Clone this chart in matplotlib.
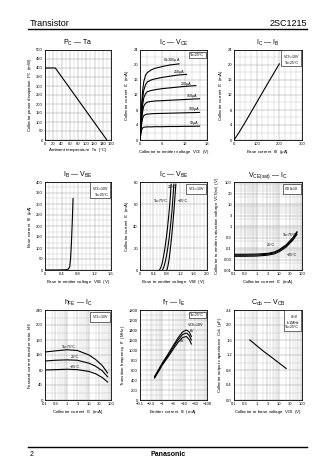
import matplotlib
matplotlib.use('Agg')
import matplotlib.pyplot as plt
from matplotlib.ticker import MultipleLocator, LogLocator, NullFormatter
from matplotlib.lines import Line2D

plt.rcParams['font.family'] = ['Liberation Sans', 'DejaVu Sans']
plt.rcParams['mathtext.fontset'] = 'custom'
plt.rcParams['mathtext.rm'] = 'Liberation Sans'
plt.rcParams['mathtext.it'] = 'Liberation Sans:italic'
plt.rcParams['mathtext.default'] = 'regular'

# ---- data ----
# P_C - Ta
ta = [0, 25, 150]
pc = [400, 400, 0]

# I_C - V_CE (one curve per base current)
ib_labels = ['$I_B$=300μA', '250μA', '200μA', '150μA', '100μA', '50μA']
vce_300 = [0, 0.2, 0.4, 0.7, 1.0, 1.5, 2.0, 3, 4, 6, 8, 10.5]
ic_300 = [0, 4.5, 9, 13, 15.5, 17.3, 18.0, 18.7, 19.1, 19.6, 20.0, 20.3]
vce_250 = [0, 0.2, 0.4, 0.7, 1.0, 1.5, 2.0, 3, 4, 6, 8, 10, 12.5]
ic_250 = [0, 3.8, 7.5, 11, 13.2, 14.8, 15.5, 16.0, 16.3, 16.7, 17.0, 17.3, 17.5]
vce_200 = [0, 0.2, 0.4, 0.7, 1.0, 1.5, 2.0, 3, 4, 6, 8, 10, 12, 15]
ic_200 = [0, 3.2, 6.2, 9.3, 11.2, 12.4, 12.9, 13.2, 13.4, 13.7, 13.9, 14.1, 14.3, 14.5]
vce_150 = [0, 0.2, 0.4, 0.7, 1.0, 1.5, 2.0, 3, 4, 6, 8, 10, 12, 14, 16]
ic_150 = [0, 2.6, 5.0, 7.5, 9.0, 9.8, 10.1, 10.3, 10.4, 10.5, 10.6, 10.7, 10.8, 10.9, 11.0]
vce_100 = [0, 0.2, 0.4, 0.7, 1.0, 1.5, 2.0, 3, 4, 6, 8, 10, 12, 14, 16]
ic_100 = [0, 2.0, 4.0, 5.8, 6.5, 6.8, 6.9, 7.0, 7.05, 7.1, 7.15, 7.2, 7.25, 7.3, 7.35]
vce_50 = [0, 0.2, 0.4, 0.7, 1.0, 1.5, 2.0, 3, 4, 6, 8, 10, 12, 14, 16]
ic_50 = [0, 1.4, 2.6, 3.2, 3.4, 3.45, 3.5, 3.5, 3.55, 3.55, 3.6, 3.6, 3.65, 3.65, 3.7]

# I_C - I_B
ib_lin = [0, 20, 50, 100, 150, 200]
ic_lin = [0, 1.8, 4.8, 10.0, 15.2, 20.3]

# I_B - V_BE
vbe_b = [0, 0.3, 0.5, 0.56, 0.6, 0.62, 0.64, 0.66, 0.68]
ib_b = [0, 0, 1, 3, 15, 50, 120, 215, 325]

# I_C - V_BE at three temperatures
vbe_75 = [0.58, 0.62, 0.66, 0.70, 0.74, 0.78, 0.82, 0.86, 0.90, 0.93]
ic_75 = [0, 2, 6, 12, 19, 28, 38, 50, 64, 78]
vbe_25 = [0.67, 0.71, 0.75, 0.79, 0.83, 0.87, 0.91, 0.95, 0.98, 1.01]
ic_25 = [0, 2.5, 7, 13, 20, 29, 40, 52, 65, 78]
vbe_m25 = [0.80, 0.83, 0.86, 0.89, 0.92, 0.95, 0.98, 1.01, 1.04, 1.07]
ic_m25 = [0, 3, 8, 15, 23, 32, 42, 53, 65, 78]

# V_CE(sat) - I_C
ic_sat = [0.1, 0.3, 1, 3, 6, 10, 20, 40, 60]
vsat_75 = [0.052, 0.052, 0.053, 0.057, 0.066, 0.085, 0.14, 0.30, 0.55]
vsat_25 = [0.047, 0.047, 0.048, 0.052, 0.060, 0.077, 0.125, 0.27, 0.50]
vsat_m25 = [0.042, 0.042, 0.043, 0.047, 0.054, 0.068, 0.11, 0.23, 0.42]

# h_FE - I_C
ic_h = [0.1, 0.3, 1, 3, 10, 20, 40, 70]
hfe_75 = [128, 131, 134, 132, 120, 108, 92, 72]
hfe_25 = [104, 106, 107, 106, 98, 90, 78, 62]
hfe_m25 = [80, 81, 82, 81, 76, 70, 60, 48]

# f_T - I_E (magnitude of I_E)
ie = [0.45, 0.7, 1, 2, 3, 5, 8, 12, 16, 20]
ft_10 = [470, 620, 740, 950, 1080, 1240, 1360, 1400, 1360, 1270]
ft_6 = [455, 600, 720, 920, 1050, 1200, 1310, 1340, 1290, 1200]
ft_3 = [440, 580, 700, 890, 1010, 1150, 1250, 1270, 1210, 1120]

# C_ob - V_CB
vcb = [0.5, 1, 2, 3, 5, 10, 20]
cob = [1.6, 1.45, 1.3, 1.22, 1.12, 0.98, 0.84]

log_ticks = [0.1, 0.3, 1, 3, 10, 30, 100]
log_labels = ['0.1', '0.3', '1', '3', '10', '30', '100']
ie_labels = ['−0.1', '−0.3', '−1', '−3', '−10', '−30', '−100']

W, H = 336, 474
fig = plt.figure(figsize=(W / 100, H / 100), dpi=100)


def make_ax(l, t, r, b):
    return fig.add_axes([l / W, 1 - b / H, (r - l) / W, (b - t) / H])


def style(ax, title, xlabel, ylabel):
    ax.set_title(title, fontsize=5, pad=3.5)
    ax.set_xlabel(xlabel, fontsize=3.2, labelpad=1.5)
    ax.set_ylabel(ylabel, fontsize=3.2, labelpad=1.5)
    ax.tick_params(which='both', labelsize=3, length=0, pad=1.5)
    ax.grid(which='major', color='0.55', lw=0.3)
    ax.grid(which='minor', color='0.72', lw=0.25)
    ax.set_axisbelow(True)
    for s in ax.spines.values():
        s.set_linewidth(0.6)


def box(ax, txt):
    ax.text(0.96, 0.965, txt, transform=ax.transAxes, ha='right', va='top',
            fontsize=2.6, linespacing=1.1,
            bbox=dict(boxstyle='square,pad=0.35', fc='white', ec='black', lw=0.4))


def logx(ax, labels):
    ax.set_xscale('log')
    ax.set_xlim(0.1, 100)
    ax.set_xticks(log_ticks)
    ax.set_xticklabels(labels)
    ax.xaxis.set_minor_locator(LogLocator(subs=range(2, 10)))
    ax.xaxis.set_minor_formatter(NullFormatter())


lw = 0.8
cols = [(45, 111), (140, 207), (234, 302)]
rows = [(50, 140), (182, 270), (310, 400)]

# ---- row 1 ----
ax = make_ax(cols[0][0], rows[0][0], cols[0][1], rows[0][1])
ax.plot(ta, pc, color='black', lw=lw)
ax.set_xlim(0, 160)
ax.set_ylim(0, 500)
ax.xaxis.set_major_locator(MultipleLocator(20))
ax.xaxis.set_minor_locator(MultipleLocator(10))
ax.yaxis.set_major_locator(MultipleLocator(50))
style(ax, '$P_C$ — Ta', 'Ambient temperature  Ta  (°C)',
      'Collector power dissipation  $P_C$  (mW)')

ax = make_ax(cols[1][0], rows[0][0], cols[1][1], rows[0][1])
curves = [(vce_300, ic_300), (vce_250, ic_250), (vce_200, ic_200),
          (vce_150, ic_150), (vce_100, ic_100), (vce_50, ic_50)]
for v, i in curves:
    ax.plot(v, i, color='black', lw=lw)
label_pos = [(8.5, 21.2), (10.5, 18.2), (12.5, 15.0), (14.0, 11.8), (14.5, 8.2), (14.5, 4.6)]
for txt, (x, y) in zip(ib_labels, label_pos):
    ax.text(x, y, txt, fontsize=2.6, ha='center', va='center')
ax.set_xlim(0, 18)
ax.set_ylim(0, 24)
ax.xaxis.set_major_locator(MultipleLocator(6))
ax.xaxis.set_minor_locator(MultipleLocator(2))
ax.yaxis.set_major_locator(MultipleLocator(4))
ax.yaxis.set_minor_locator(MultipleLocator(2))
style(ax, '$I_C$ — $V_{CE}$', 'Collector to emitter voltage  $V_{CE}$  (V)',
      'Collector current  $I_C$  (mA)')
box(ax, 'Ta=25°C')

ax = make_ax(cols[2][0], rows[0][0], cols[2][1], rows[0][1])
ax.plot(ib_lin, ic_lin, color='black', lw=lw)
ax.set_xlim(0, 300)
ax.set_ylim(0, 24)
ax.xaxis.set_major_locator(MultipleLocator(100))
ax.xaxis.set_minor_locator(MultipleLocator(25))
ax.yaxis.set_major_locator(MultipleLocator(4))
ax.yaxis.set_minor_locator(MultipleLocator(2))
style(ax, '$I_C$ — $I_B$', 'Base current  $I_B$  (μA)', 'Collector current  $I_C$  (mA)')
box(ax, '$V_{CE}$=10V\nTa=25°C')

# ---- row 2 ----
ax = make_ax(cols[0][0], rows[1][0], cols[0][1], rows[1][1])
ax.plot(vbe_b, ib_b, color='black', lw=lw)
ax.set_xlim(0, 1.6)
ax.set_ylim(0, 400)
ax.set_xticks([0, 0.4, 0.8, 1.2, 1.6])
ax.set_xticklabels(['0', '0.4', '0.8', '1.2', '1.6'])
ax.xaxis.set_minor_locator(MultipleLocator(0.1))
ax.yaxis.set_major_locator(MultipleLocator(50))
ax.yaxis.set_minor_locator(MultipleLocator(25))
style(ax, '$I_B$ — $V_{BE}$', 'Base to emitter voltage  $V_{BE}$  (V)',
      'Base current  $I_B$  (μA)')
box(ax, '$V_{CE}$=10V\nTa=25°C')

ax = make_ax(cols[1][0], rows[1][0], cols[1][1], rows[1][1])
for v, i in [(vbe_75, ic_75), (vbe_25, ic_25), (vbe_m25, ic_m25)]:
    ax.plot(v, i, color='black', lw=lw)
ax.text(0.42, 63, 'Ta=75°C', fontsize=2.6, ha='left', va='center')
ax.text(0.95, 75, '25°C', fontsize=2.6, ha='center', va='center')
ax.text(1.12, 63, '−25°C', fontsize=2.6, ha='left', va='center')
ax.set_xlim(0, 2.0)
ax.set_ylim(0, 80)
ax.set_xticks([0, 0.4, 0.8, 1.2, 1.6, 2.0])
ax.set_xticklabels(['0', '0.4', '0.8', '1.2', '1.6', '2.0'])
ax.xaxis.set_minor_locator(MultipleLocator(0.1))
ax.yaxis.set_major_locator(MultipleLocator(20))
ax.yaxis.set_minor_locator(MultipleLocator(10))
style(ax, '$I_C$ — $V_{BE}$', 'Base to emitter voltage  $V_{BE}$  (V)',
      'Collector current  $I_C$  (mA)')
box(ax, '$V_{CE}$=10V')

ax = make_ax(cols[2][0], rows[1][0], cols[2][1], rows[1][1])
for v in [vsat_75, vsat_25, vsat_m25]:
    ax.plot(ic_sat, v, color='black', lw=lw)
logx(ax, log_labels)
ax.set_yscale('log')
ax.set_ylim(0.01, 100)
ax.set_yticks([0.01, 0.03, 0.1, 0.3, 1, 3, 10, 30, 100])
ax.set_yticklabels(['0.01', '0.03', '0.1', '0.3', '1', '3', '10', '30', '100'])
ax.yaxis.set_minor_locator(LogLocator(subs=range(2, 10)))
ax.yaxis.set_minor_formatter(NullFormatter())
ax.text(14, 0.4, 'Ta=75°C', fontsize=2.6, ha='left', va='center')
ax.text(4, 0.14, '25°C', fontsize=2.6, ha='center', va='center')
ax.text(22, 0.05, '−25°C', fontsize=2.6, ha='left', va='center')
style(ax, '$V_{CE(sat)}$ — $I_C$', 'Collector current  $I_C$  (mA)',
      'Collector to emitter saturation voltage  $V_{CE(sat)}$  (V)')
box(ax, '$I_C$/$I_B$=10')

# ---- row 3 ----
ax = make_ax(cols[0][0], rows[2][0], cols[0][1], rows[2][1])
for h in [hfe_75, hfe_25, hfe_m25]:
    ax.plot(ic_h, h, color='black', lw=lw)
logx(ax, log_labels)
ax.set_ylim(0, 240)
ax.yaxis.set_major_locator(MultipleLocator(40))
ax.yaxis.set_minor_locator(MultipleLocator(20))
ax.text(1.2, 141, 'Ta=75°C', fontsize=2.6, ha='center', va='center')
ax.text(2.2, 114, '25°C', fontsize=2.6, ha='center', va='center')
ax.text(2.2, 88, '−25°C', fontsize=2.6, ha='center', va='center')
style(ax, '$h_{FE}$ — $I_C$', 'Collector current  $I_C$  (mA)',
      'Forward current transfer ratio  $h_{FE}$')
box(ax, '$V_{CE}$=10V')

ax = make_ax(cols[1][0], rows[2][0], cols[1][1], rows[2][1])
for f in [ft_10, ft_6, ft_3]:
    ax.plot(ie, f, color='black', lw=lw)
logx(ax, ie_labels)
ax.set_ylim(0, 1800)
ax.yaxis.set_major_locator(MultipleLocator(200))
ax.yaxis.set_minor_locator(MultipleLocator(100))
ax.text(13, 1500, '$V_{CB}$=10V', fontsize=2.6, ha='left', va='center')
ax.text(17, 1370, '6V', fontsize=2.6, ha='left', va='center')
ax.text(8, 1180, '3V', fontsize=2.6, ha='center', va='center')
style(ax, '$f_T$ — $I_E$', 'Emitter current  $I_E$  (mA)',
      'Transition frequency  $f_T$  (MHz)')
box(ax, 'Ta=25°C')

ax = make_ax(cols[2][0], rows[2][0], cols[2][1], rows[2][1])
ax.plot(vcb, cob, color='black', lw=lw)
logx(ax, log_labels)
ax.set_ylim(0, 2.4)
ax.yaxis.set_major_locator(MultipleLocator(0.4))
ax.yaxis.set_minor_locator(MultipleLocator(0.2))
style(ax, '$C_{ob}$ — $V_{CB}$', 'Collector to base voltage  $V_{CB}$  (V)',
      'Collector output capacitance  $C_{ob}$  (pF)')
box(ax, '$I_E$=0\nf=1MHz\nTa=25°C')

# ---- page header / footer ----
fig.text(30 / W, 1 - 23 / H, 'Transistor', fontsize=6.5, va='center', ha='left')
fig.text(307 / W, 1 - 23 / H, '2SC1215', fontsize=6.5, va='center', ha='right')
fig.add_artist(Line2D([28 / W, 307 / W], [1 - 28.5 / H] * 2, color='black', lw=1.0))
fig.add_artist(Line2D([28 / W, 307 / W], [1 - 447 / H] * 2, color='black', lw=1.0))
fig.text(30 / W, 1 - 455 / H, '2', fontsize=5, va='center', ha='left')
fig.text(168 / W, 1 - 455 / H, 'Panasonic', fontsize=5, va='center', ha='center',
         fontweight='bold')

fig.savefig('out.png', dpi=100)
